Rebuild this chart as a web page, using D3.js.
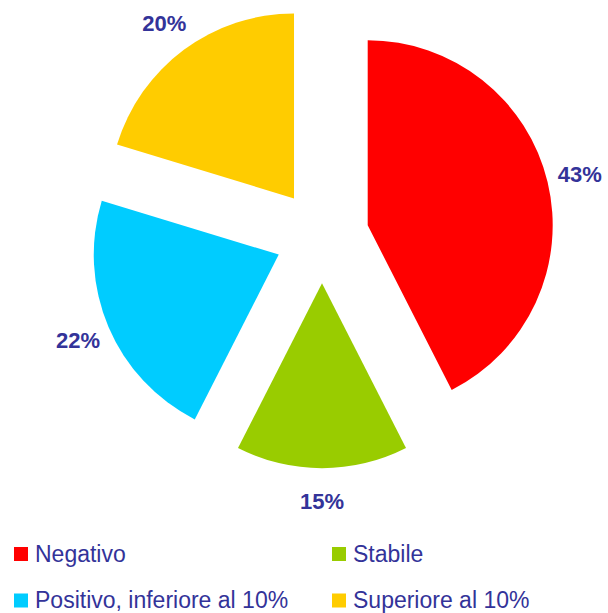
<!DOCTYPE html>
<html>
<head>
<meta charset="utf-8">
<script src="https://cdn.jsdelivr.net/npm/d3@7"></script>
<style>
  html, body { margin: 0; padding: 0; background: #fff; }
  svg { display: block; }
</style>
</head>
<body>
<svg id="chart" width="608" height="613"></svg>
<script>
const categories = ["Negativo", "Stabile", "Positivo, inferiore al 10%", "Superiore al 10%"];
const values = [42.5, 15.0, 22.2, 20.3];
const colors = ["#FF0000", "#99CC00", "#00CCFF", "#FFCC00"];

const W = 608, H = 613;
const cx = 322, cy = 236.2, radius = 185, explode = 47, labelDist = 218;
const textColor = "#333399";
const font = "Arial, 'Liberation Sans', Helvetica, sans-serif";

const svg = d3.select("#chart");

const pie = d3.pie().sort(null).value(d => d.value).startAngle(0).endAngle(2 * Math.PI);
const data = categories.map((c, i) => ({ name: c, value: values[i], color: colors[i] }));
const arcs = pie(data);
const arc = d3.arc().innerRadius(0).outerRadius(radius);

const g = svg.append("g").attr("transform", `translate(${cx},${cy})`);

const slice = g.selectAll("g.slice").data(arcs).enter().append("g")
  .attr("class", "slice")
  .attr("transform", d => {
    const a = (d.startAngle + d.endAngle) / 2;
    return `translate(${explode * Math.sin(a)},${-explode * Math.cos(a)})`;
  });

slice.append("path")
  .attr("d", arc)
  .attr("fill", d => d.data.color);

slice.append("text")
  .attr("x", d => labelDist * Math.sin((d.startAngle + d.endAngle) / 2))
  .attr("y", d => -labelDist * Math.cos((d.startAngle + d.endAngle) / 2))
  .attr("dy", "0.35em")
  .attr("text-anchor", "middle")
  .attr("font-family", font)
  .attr("font-weight", "bold")
  .attr("font-size", 22)
  .attr("fill", textColor)
  .text(d => Math.round(d.data.value) + "%");

// Legend
const legendX = [14, 332];
const legendY = [547, 593.5];
const legend = svg.append("g");
data.forEach((d, i) => {
  const col = i % 2, row = Math.floor(i / 2);
  const lg = legend.append("g").attr("transform", `translate(${legendX[col]},${legendY[row]})`);
  lg.append("rect").attr("x", 0).attr("y", 0).attr("width", 14).attr("height", 14).attr("fill", d.color);
  lg.append("text")
    .attr("x", 21)
    .attr("y", 14.5)
    .attr("font-family", font)
    .attr("font-size", 23)
    .attr("fill", textColor)
    .text(d.name);
});
</script>
</body>
</html>
